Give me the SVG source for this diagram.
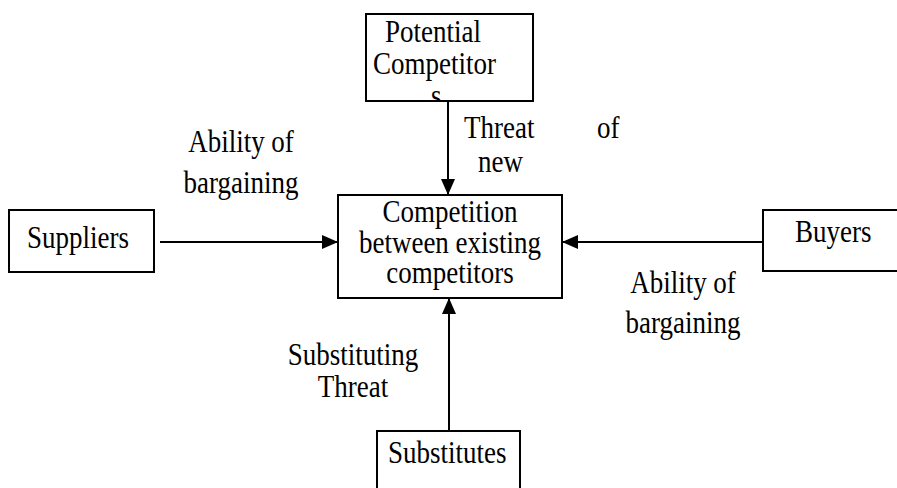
<svg xmlns="http://www.w3.org/2000/svg" width="897" height="488" viewBox="0 0 897 488">
  <style>
    .box { fill: #ffffff; stroke: #000000; stroke-width: 2; }
    .lbl { font-family: "Liberation Serif", "Times New Roman", serif; font-size: 27px; fill: #000000; }
    .mid { text-anchor: middle; }
    .conn { stroke: #000000; stroke-width: 2; fill: none; marker-end: url(#head); }
  </style>
  <defs>
    <marker id="head" markerWidth="16" markerHeight="14" refX="16" refY="7" orient="auto" markerUnits="userSpaceOnUse">
      <path d="M0,0 L16,7 L0,14 Z" fill="#000000"/>
    </marker>
    <clipPath id="pcClip">
      <rect x="366" y="14" width="167" height="87"/>
    </clipPath>
  </defs>
  <rect width="897" height="488" fill="#ffffff"/>

  <!-- connectors and their labels (glyphs drawn slightly tall) -->
  <g id="connectors">
    <line class="conn" x1="448" y1="101" x2="448" y2="195"/>
    <line class="conn" x1="160" y1="242" x2="338" y2="242"/>
    <line class="conn" x1="763" y1="242" x2="562" y2="242"/>
    <line class="conn" x1="449" y1="431" x2="449" y2="298"/>

    <text class="lbl" transform="translate(464 138) scale(1 1.15)">Threat</text>
    <text class="lbl" transform="translate(597 138) scale(1 1.15)">of</text>
    <text class="lbl" transform="translate(478 172) scale(1 1.15)">new</text>

    <text class="lbl mid" transform="translate(241 152) scale(1 1.15)">Ability of</text>
    <text class="lbl mid" transform="translate(241 193) scale(1 1.15)">bargaining</text>

    <text class="lbl mid" transform="translate(683 293) scale(1 1.15)">Ability of</text>
    <text class="lbl mid" transform="translate(683 333) scale(1 1.15)">bargaining</text>

    <text class="lbl mid" transform="translate(353 365) scale(1 1.15)">Substituting</text>
    <text class="lbl mid" transform="translate(353 397) scale(1 1.15)">Threat</text>
  </g>

  <g id="potential-competitors">
    <rect class="box" x="366" y="14" width="167" height="87"/>
    <g clip-path="url(#pcClip)">
      <text class="lbl" transform="translate(385 42) scale(1 1.15)">Potential</text>
      <text class="lbl" transform="translate(373 74) scale(1 1.15)">Competitor</text>
      <text class="lbl" transform="translate(431 106) scale(1 1.15)">s</text>
    </g>
  </g>

  <g id="competition">
    <rect class="box" x="338" y="195" width="224" height="103"/>
    <text class="lbl mid" transform="translate(450 222) scale(1 1.15)">Competition</text>
    <text class="lbl mid" transform="translate(450 253) scale(1 1.15)">between existing</text>
    <text class="lbl mid" transform="translate(450 283) scale(1 1.15)">competitors</text>
  </g>

  <g id="suppliers">
    <rect class="box" x="9" y="210" width="145" height="62"/>
    <text class="lbl" transform="translate(27 248) scale(1 1.15)">Suppliers</text>
  </g>

  <g id="buyers">
    <rect class="box" x="763" y="210" width="150" height="61"/>
    <text class="lbl" transform="translate(795 242) scale(1 1.15)">Buyers</text>
  </g>

  <g id="substitutes">
    <rect class="box" x="377" y="431" width="143" height="70"/>
    <text class="lbl" transform="translate(388 463) scale(1 1.15)">Substitutes</text>
  </g>
</svg>
